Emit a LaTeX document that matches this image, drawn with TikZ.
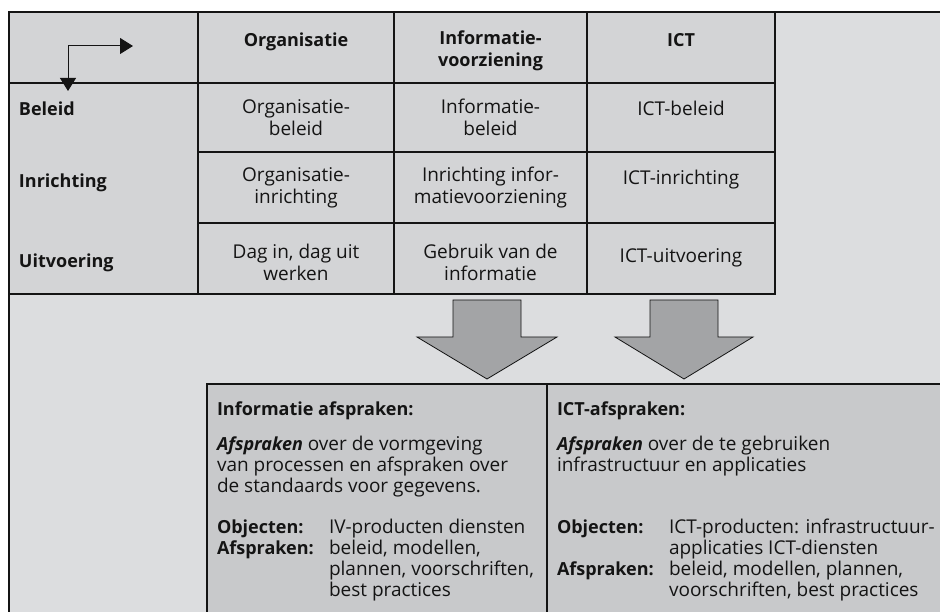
\documentclass[tikz,border=0pt]{standalone}
\usepackage{fontspec}
\setmainfont{Open Sans}
\usetikzlibrary{arrows.meta}

\definecolor{panelgray}{HTML}{DCDDDF}
\definecolor{cellgray}{HTML}{D3D4D6}
\definecolor{boxgray}{HTML}{C8C9CB}
\definecolor{arrowgray}{HTML}{A3A4A6}
\definecolor{inkdark}{HTML}{141414}

% stacked lines whose baseline is the first line
\newcommand\stackc[1]{\begin{tabular}[t]{@{}c@{}}#1\end{tabular}}
\newcommand\stackl[1]{\begin{tabular}[t]{@{}l@{}}#1\end{tabular}}
% bold text a touch smaller than the regular text
\newcommand\bfsize{\fontsize{18}{22}\selectfont\bfseries}

\tikzset{
  rule/.style={draw=inkdark, line width=1.4pt},
  boxrule/.style={draw=inkdark, line width=1.2pt},
  txt/.style={inner sep=0pt, outer sep=0pt, text=inkdark,
    font=\fontsize{19}{22}\selectfont},
  hd/.style={txt, anchor=base, font=\bfsize},
  cell/.style={txt, anchor=base},
  rowlbl/.style={txt, anchor=base west, font=\bfsize},
  btxt/.style={txt, anchor=base west, font=\fontsize{19}{21}\selectfont},
  bbold/.style={btxt, font=\fontsize{18}{21}\selectfont\bfseries},
  bigarrow/.style={fill=arrowgray, draw=inkdark, line width=0.8pt, line join=miter},
  corner/.style={draw=inkdark, line width=1pt,
    {Triangle[length=13pt,width=16pt]}-{Triangle[length=13pt,width=16pt]}},
}

\begin{document}
\begin{tikzpicture}[x=1pt,y=-1pt]
\useasboundingbox (0,0) rectangle (940,612);

% panel, table and agreement boxes
\fill[panelgray] (9,12) rectangle (940,612);
\fill[cellgray] (9,12) rectangle (775,294);
\fill[boxgray] (207,384) rectangle (940,612);

% table rules
\draw[rule] (9,612) -- (9,12) -- (940,12);
\draw[rule] (775,12) -- (775,294) -- (9,294);
\draw[rule] (198,12) -- (198,294);
\draw[rule] (394,12) -- (394,294);
\draw[rule] (587,12) -- (587,294);
\draw[rule] (9,83) -- (775,83);
\draw[rule] (198,152) -- (775,152);
\draw[rule] (198,223) -- (775,223);

% agreement box rules
\draw[boxrule] (207,612) -- (207,384) -- (940,384);
\draw[boxrule] (547,384) -- (547,612);

% corner arrows
\coordinate (elbow) at (68,46);
\coordinate (tipright) at (133,46);
\coordinate (tipdown) at (68,91);
\draw[corner] (tipright) -- (elbow) -- (tipdown);

% column headers
\node[hd] (hOrg) at (296,47) {Organisatie};
\node[hd] (hInf) at (490.5,45) {\stackc{Informatie-\\voorziening}};
\node[hd] (hICT) at (681,47) {ICT};

% row labels
\node[rowlbl] (rBel) at (19,116) {Beleid};
\node[rowlbl] (rInr) at (19,188) {Inrichting};
\node[rowlbl] (rUit) at (19,268) {Uitvoering};

% cells
\node[cell] (c11) at (296,114) {\stackc{Organisatie-\\beleid}};
\node[cell] (c12) at (490.5,114) {\stackc{Informatie-\\beleid}};
\node[cell] (c13) at (681,116) {ICT-beleid};
\node[cell] (c21) at (296,182) {\stackc{Organisatie-\\inrichting}};
\node[cell] (c22) at (490.5,182) {\stackc{Inrichting infor-\\matievoorziening}};
\node[cell] (c23) at (681,185) {ICT-inrichting};
\node[cell] (c31) at (296,259) {\stackc{Dag in, dag uit\\werken}};
\node[cell] (c32) at (490.5,259) {\stackc{Gebruik van de\\informatie}};
\node[cell] (c33) at (681,263) {ICT-uitvoering};

% down arrows
\draw[bigarrow] (453,300) -- (521,300) -- (521,337) -- (557,337) -- (487,379)
  -- (417,337) -- (453,337) -- cycle;
\draw[bigarrow] (650,300) -- (718,300) -- (718,337) -- (753,337) -- (684,379)
  -- (615,337) -- (650,337) -- cycle;

% information agreements
\node[bbold] (iTitle) at (217,415) {Informatie afspraken:};
\node[btxt] (iText) at (217,450) {\stackl{{\bfseries\itshape\fontsize{18}{21}\selectfont Afspraken} over de vormgeving\\
  van processen en afspraken over\\de standaards voor gegevens.}};
\node[bbold] (iObjL) at (217,533) {Objecten:};
\node[btxt] (iObjV) at (329,533) {IV-producten diensten};
\node[bbold] (iAfsL) at (217,554) {Afspraken:};
\node[btxt] (iAfsV) at (329,554) {\stackl{beleid, modellen,\\plannen, voorschriften,\\best practices}};

% ICT agreements
\node[bbold] (cTitle) at (557,415) {ICT-afspraken:};
\node[btxt] (cText) at (557,450) {\stackl{{\bfseries\itshape\fontsize{18}{21}\selectfont Afspraken} over de te gebruiken\\
  infrastructuur en applicaties}};
\node[bbold] (cObjL) at (557,533) {Objecten:};
\node[btxt] (cObjV) at (669,533) {\stackl{ICT-producten: infrastructuur-\\applicaties ICT-diensten}};
\node[bbold] (cAfsL) at (557,575) {Afspraken:};
\node[btxt] (cAfsV) at (669,575) {\stackl{beleid, modellen, plannen,\\voorschriften, best practices}};
\end{tikzpicture}
\end{document}
